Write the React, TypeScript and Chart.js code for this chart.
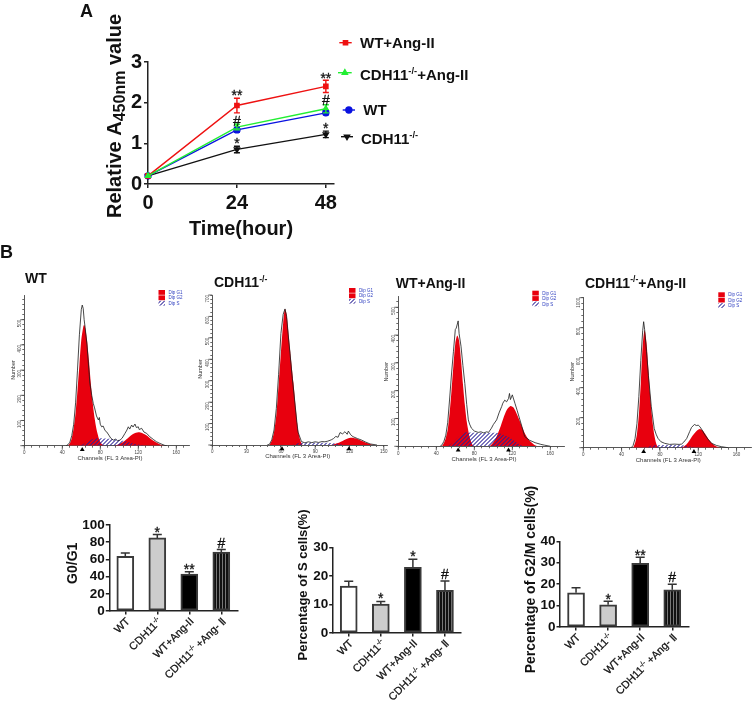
import { useEffect, useRef } from 'react';
import { Chart, registerables } from 'chart.js';
import { drawPoint } from 'chart.js/helpers';

Chart.register(...registerables);

const FONT = '"Liberation Sans", Arial, sans-serif';

/* ---------- Panel A ---------- */
const hours = [0, 24, 48];
const wtAngValues = [0.2, 1.93, 2.4];
const wtAngErrors = [0, 0.18, 0.15];
const cdhAngValues = [0.2, 1.4, 1.85];
const cdhAngErrors = [0, 0.07, 0.1];
const wtValues = [0.2, 1.33, 1.75];
const wtErrors = [0, 0.06, 0.05];
const cdhValues = [0.2, 0.85, 1.22];
const cdhErrors = [0, 0.08, 0.08];
const lineMarks = [
  { x: 24, y: 2.245, t: '**' },
  { x: 48, y: 2.68, t: '**' },
  { x: 24, y: 1.56, t: '#' },
  { x: 48, y: 2.07, t: '#' },
  { x: 24, y: 1.08, t: '*' },
  { x: 48, y: 1.43, t: '*' },
];

/* ---------- Panel B: histograms, [channel, count] ---------- */
const wtOutline = [[44,0],[46,4],[48,14],[50,40],[52,85],[54,170],[56,300],[58,440],[60,540],[61,558],[62,545],[63,500],[64,470],[66,400],[68,300],[69,248],[71,200],[72.6,168],[74,150],[76,118],[78,102],[79,112],[80,85],[81.4,75],[83,78],[85,60],[86.7,55],[89,42],[91,30],[93.7,22],[96,26],[98,20],[100.7,22],[103,30],[106,49],[108,62],[109.5,75],[111,66],[113,82],[114.5,74],[116.5,86],[118,72],[120,75],[121,64],[123.5,69],[126,54],[128.8,49],[132,36],[135.8,25],[139,16],[142.8,9],[148,1],[150,0]];
const wtG1 = [[46,0],[48,10],[50,30],[52,70],[54,130],[56,220],[58,320],[60,420],[62,470],[63,480],[64,470],[66,420],[68,340],[70,250],[72,170],[74,110],[76,65],[78,35],[80,15],[82,5],[84,0]];
const wtG2 = [[95,0],[99,5],[103,13],[107,24],[111,37],[115,47],[120,53],[124,50],[128,42],[132,31],[136,20],[140,11],[144,4],[147,0]];
const wtS = [[58,0],[62,6],[66,14],[70,24],[74,29],[80,30],[85,29],[90,28],[95,26],[100,23],[105,19],[110,14],[115,9],[120,5],[125,2],[130,0]];

const cdhOutline = [[48,0],[50,3],[52,24],[54,70],[56,170],[58,330],[60,520],[62,610],[63.6,635],[65,600],[67,480],[68,428],[70,310],[72,210],[74,105],[75,60],[78,16],[81,10],[84,15],[87,11],[90,15],[93,12],[96,16],[98.5,15],[101,18],[104,24],[106,30],[108,40],[110,36],[111.7,58],[114,52],[116,62],[118,50],[119,65],[121,48],[123,39],[127,30],[130.6,23],[134,14],[138,5],[144,0]];
const cdhG1 = [[50,0],[52,20],[54,60],[56,140],[58,280],[60,430],[62,570],[63.5,635],[65,610],[67,500],[69,390],[71,290],[73,170],[75,70],[77,20],[79,0]];
const cdhG2 = [[104,0],[108,6],[112,14],[116,25],[120,33],[122,34],[125,31],[129,23],[133,14],[137,6],[141,0]];
const cdhS = [[70,0],[74,7],[78,10],[90,11],[100,10],[106,8],[112,3],[116,0]];

const wtAngOutline = [[44,0],[46,5],[48,18],[50,40],[52,85],[54,170],[56,260],[58,340],[60,420],[61,425],[63,451],[64,405],[66,360],[68,290],[70,226],[72,150],[73.7,95],[75,80],[77,65],[80,55],[84,50],[87,52],[90,48],[93,52],[95,50],[98,65],[100,78],[103.5,95],[106,120],[108.8,143],[110,155],[112,166],[114,160],[116,172],[117,190],[118,168],[120,185],[122.8,154],[125,130],[128,95],[130,72],[133,35],[138,22],[144,13],[150,7],[154,4],[160,0]];
const wtAngG1 = [[46,0],[48,12],[50,30],[52,60],[54,120],[56,200],[58,290],[60,370],[62,398],[64,380],[66,310],[68,225],[70,150],[72,90],[74,50],[76,22],[78,6],[80,0]];
const wtAngG2 = [[96,0],[99,10],[102,25],[105,48],[108,75],[111,105],[114,130],[118,145],[121,140],[124,122],[127,98],[130,72],[133,48],[136,30],[139,17],[143,6],[147,0]];
const wtAngS = [[52,0],[58,15],[64,35],[70,50],[75,50],[85,48],[95,48],[105,48],[112,40],[118,30],[124,15],[130,3],[134,0]];

const cdhAngOutline = [[50,0],[52,15],[54,60],[56,160],[58,340],[60,580],[62,780],[63,840],[64,790],[66,640],[68,480],[71,273],[74,129],[76,90],[78,62],[81,40],[85,29],[90,22],[95,24],[100,22],[102.6,24],[105,38],[108,62],[111,107],[113,135],[116,155],[118,148],[120,150],[121.7,140],[124,118],[127,84],[130,58],[134,29],[139,15],[144,7],[151,0]];
const cdhAngG1 = [[52,0],[54,30],[56,90],[58,220],[60,430],[62,680],[64,784],[66,700],[68,520],[70,340],[72,190],[74,90],[76,30],[78,0]];
const cdhAngG2 = [[101,0],[105,8],[108,25],[111,50],[114,80],[118,110],[121.7,124],[125,112],[128,85],[131,55],[134,32],[138,12],[143,0]];
const cdhAngS = [[62,0],[68,8],[74,16],[85,18],[95,18],[104,17],[110,10],[116,3],[120,0]];

/* ---------- Panel B: bars ---------- */
const barCategories = ['WT', 'CDH11-/-', 'WT+Ang-II', 'CDH11-/- +Ang- Ⅱ'];
const g0g1Values = [63.5, 85, 43, 68.5];
const g0g1Errors = [4, 4, 2.5, 3];
const g0g1Marks = [null, { y: 95.3, t: '*' }, { y: 52.3, t: '**' }, { y: 79.4, t: '#' }];
const sCellValues = [16.4, 10.1, 23, 14.9];
const sCellErrors = [1.7, 0.9, 2.8, 3.3];
const sCellMarks = [null, { y: 13, t: '*' }, { y: 27.7, t: '*' }, { y: 20.5, t: '#' }];
const g2mValues = [16, 10.4, 29.7, 17.4];
const g2mErrors = [2.3, 1.6, 2.8, 2.6];
const g2mMarks = [null, { y: 14.1, t: '*' }, { y: 35, t: '**' }, { y: 23.5, t: '#' }];

/* ---------- helpers ---------- */
type Box = { x: number; y: number; w: number; h: number };
type Plot = { left: number; top: number; right: number; bottom: number };
type RichOpts = { size: number; weight?: string; color?: string; rotate?: number; align?: string; stroke?: number };

function drawRich(ctx: any, text: string, x: number, y: number, o: RichOpts) {
  const segs = text.split(/(-\/-|450nm)/).filter((s) => s.length);
  const font = (size: number) => `${o.weight || 'normal'} ${size}px ${FONT}`;
  const info = segs.map((s) => {
    let size = o.size;
    let dy = 0;
    if (s === '-/-') { size = o.size * 0.62; dy = -o.size * 0.38; }
    if (s === '450nm') { size = o.size * 0.8; dy = o.size * 0.2; }
    ctx.font = font(size);
    return { s, size, dy, w: ctx.measureText(s).width };
  });
  const total = info.reduce((a, b) => a + b.w, 0);
  ctx.save();
  ctx.translate(x, y);
  ctx.rotate(o.rotate || 0);
  ctx.fillStyle = o.color || '#111';
  ctx.strokeStyle = o.color || '#111';
  ctx.lineWidth = o.stroke || 0;
  ctx.textAlign = 'left';
  ctx.textBaseline = 'alphabetic';
  let cx = o.align === 'right' ? -total : o.align === 'center' ? -total / 2 : 0;
  for (const seg of info) {
    ctx.font = font(seg.size);
    ctx.fillText(seg.s, cx, seg.dy);
    if (o.stroke) ctx.strokeText(seg.s, cx, seg.dy);
    cx += seg.w;
  }
  ctx.restore();
}

function drawMark(ctx: any, t: string, x: number, y: number, size = 14) {
  ctx.save();
  ctx.font = `${size}px ${FONT}`;
  ctx.fillStyle = '#111';
  ctx.strokeStyle = '#111';
  ctx.lineWidth = 0.3;
  ctx.textAlign = 'center';
  ctx.textBaseline = 'alphabetic';
  const off = t === '#' ? size * 0.36 : size * 0.54;
  ctx.fillText(t, x, y + off);
  ctx.strokeText(t, x, y + off);
  ctx.restore();
}

function frame(box: Box, plot: Plot) {
  const zero = (s: any) => {
    s.paddingLeft = 0;
    s.paddingRight = 0;
    s.paddingTop = 0;
    s.paddingBottom = 0;
  };
  return {
    layout: {
      autoPadding: false,
      padding: { left: 0, bottom: 0, top: plot.top - box.y, right: box.x + box.w - plot.right },
    },
    xFit: (s: any) => { s.height = box.y + box.h - plot.bottom; zero(s); },
    yFit: (s: any) => { s.width = plot.left - box.x; zero(s); },
  };
}

function overlay(box: Box, draw: (chart: any, ctx: any) => void) {
  return {
    id: 'overlay',
    afterDraw(chart: any) {
      const ctx = chart.ctx;
      ctx.save();
      ctx.translate(-box.x, -box.y);
      draw(chart, ctx);
      ctx.restore();
    },
  };
}

function errorBars(chart: any, ctx: any, box: Box, bothSides: boolean, cap: number, width: number) {
  const sets = chart.data.datasets.map((ds: any, i: number) => ({ ds, i })).reverse();
  sets.forEach(({ ds, i }: any) => {
    if (!ds.errors) return;
    const meta = chart.getDatasetMeta(i);
    const y = chart.scales.y;
    ctx.strokeStyle = ds.errorColor || ds.borderColor;
    ctx.lineWidth = width;
    meta.data.forEach((el: any, k: number) => {
      if (!ds.errors[k]) return;
      const v = ds.values[k];
      const top = y.getPixelForValue(v + ds.errors[k]) + box.y;
      const bot = y.getPixelForValue(bothSides ? v - ds.errors[k] : v) + box.y;
      const px = el.x + box.x;
      ctx.beginPath();
      ctx.moveTo(px, top);
      ctx.lineTo(px, bot);
      ctx.moveTo(px - cap, top);
      ctx.lineTo(px + cap, top);
      if (bothSides) {
        ctx.moveTo(px - cap, bot);
        ctx.lineTo(px + cap, bot);
      }
      ctx.stroke();
    });
  });
}

function hatch() {
  const c = document.createElement('canvas');
  c.width = 4;
  c.height = 4;
  const g = c.getContext('2d') as any;
  g.fillStyle = 'rgba(40,30,150,0.62)';
  for (let px = 0; px < 4; px++) {
    for (let py = 0; py < 4; py++) {
      if ((px + py) % 4 < 2) g.fillRect(px, py, 1, 1);
    }
  }
  return g.createPattern(c, 'repeat');
}

function stripes() {
  const c = document.createElement('canvas');
  c.width = 3;
  c.height = 1;
  const g = c.getContext('2d') as any;
  g.fillStyle = '#111';
  g.fillRect(0, 0, 2, 1);
  g.fillStyle = '#777';
  g.fillRect(2, 0, 1, 1);
  return g.createPattern(c, 'repeat');
}

const baseOptions = {
  responsive: false,
  animation: false,
  maintainAspectRatio: false,
};
const quiet = { legend: { display: false }, tooltip: { enabled: false } };

/* ---------- Panel A chart ---------- */
const lineSeries = [
  { name: 'CDH11-/-+Ang-II', values: cdhAngValues, errors: cdhAngErrors, color: '#22ee33', style: 'triangle', rotation: 0, lx: [338, 351.7], ly: 72.7, tx: 360, ty: 80 },
  { name: 'WT+Ang-II', values: wtAngValues, errors: wtAngErrors, color: '#ee1111', style: 'rect', rotation: 0, lx: [339.3, 351.7], ly: 42.7, tx: 360, ty: 48.3 },
  { name: 'WT', values: wtValues, errors: wtErrors, color: '#0a12e0', style: 'circle', rotation: 0, lx: [342.7, 355], ly: 110, tx: 363.3, ty: 115 },
  { name: 'CDH11-/-', values: cdhValues, errors: cdhErrors, color: '#111111', style: 'triangle', rotation: 180, lx: [341, 353], ly: 136.7, tx: 361, ty: 144 },
];

function lineConfig(box: Box) {
  const plot = { left: 148, top: 62, right: 334, bottom: 184 };
  const f = frame(box, plot);
  const axisFont = { family: FONT, size: 20, weight: 'bold' };
  const axis = {
    border: { color: '#222', width: 1.5 },
    grid: { drawOnChartArea: false, drawTicks: true, tickLength: 4, color: '#222', lineWidth: 1.5 },
  };
  return {
    type: 'line',
    data: {
      datasets: lineSeries.map((s) => ({
        label: s.name,
        data: s.values.map((v, i) => ({ x: hours[i], y: v })),
        values: s.values,
        errors: s.errors,
        borderColor: s.color,
        backgroundColor: s.color,
        borderWidth: 1.4,
        pointStyle: s.style,
        pointRotation: s.rotation,
        pointRadius: 3,
        clip: false,
      })),
    },
    options: {
      ...baseOptions,
      layout: f.layout,
      plugins: quiet,
      scales: {
        x: {
          ...axis,
          type: 'linear',
          min: 0,
          max: 50.2,
          afterFit: f.xFit,
          afterBuildTicks: (s: any) => { s.ticks = hours.map((value) => ({ value })); },
          ticks: { color: '#111', font: axisFont, padding: 3, autoSkip: false, maxRotation: 0 },
        },
        y: {
          ...axis,
          min: 0,
          max: 3,
          afterFit: f.yFit,
          ticks: { stepSize: 1, color: '#111', font: axisFont, padding: 2 },
        },
      },
    },
    plugins: [
      overlay(box, (chart, ctx) => {
        errorBars(chart, ctx, box, true, 3, 1.4);
        lineMarks.forEach((m) => {
          drawMark(ctx, m.t, chart.scales.x.getPixelForValue(m.x) + box.x, chart.scales.y.getPixelForValue(m.y) + box.y);
        });
        lineSeries.forEach((s) => {
          ctx.strokeStyle = s.color;
          ctx.fillStyle = s.color;
          ctx.lineWidth = 1.4;
          ctx.beginPath();
          ctx.moveTo(s.lx[0], s.ly);
          ctx.lineTo(s.lx[1], s.ly);
          ctx.stroke();
          drawPoint(ctx, { pointStyle: s.style, rotation: s.rotation, radius: 3, borderWidth: 1 }, (s.lx[0] + s.lx[1]) / 2, s.ly);
          drawRich(ctx, s.name, s.tx, s.ty, { size: 15, weight: 'bold' });
        });
        drawRich(ctx, 'A', 80, 17, { size: 18, weight: 'bold' });
        drawRich(ctx, 'B', 0, 258, { size: 18, weight: 'bold' });
        drawRich(ctx, 'Relative A450nm value', 121, 218, { size: 20, weight: 'bold', rotate: -Math.PI / 2 });
        drawRich(ctx, 'Time(hour)', 241, 235, { size: 20, weight: 'bold', align: 'center' });
      }),
    ],
  };
}

/* ---------- Histogram chart ---------- */
type HistSpec = {
  box: Box; plot: Plot; xMax: number; yMax: number; xStep: number; yStep: number; xEvery: number; yEvery: number;
  outline: number[][]; g1: number[][]; g2: number[][]; s: number[][];
  title: string; titleX: number; titleY: number; legendX: number; legendY: number;
  peaks: number[]; numberX: number; numberY: number; channelX: number; channelY: number;
};

const pts = (a: number[][]) => a.map(([x, y]) => ({ x, y }));

function histConfig(h: HistSpec) {
  const f = frame(h.box, h.plot);
  const pattern = hatch();
  const RED = '#e8000e';
  const tickFont = { family: FONT, size: 4.5 };
  const axis = {
    border: { color: '#444', width: 0.9 },
    grid: { drawOnChartArea: false, drawTicks: true, tickLength: 2, color: '#444', lineWidth: 0.8 },
  };
  const area = (label: string, data: number[][], bg: any) => ({
    label,
    data: pts(data),
    backgroundColor: bg,
    borderColor: bg,
    borderWidth: 0,
    fill: 'origin',
    pointRadius: 0,
    tension: 0.25,
  });
  return {
    type: 'line',
    data: {
      datasets: [
        { label: 'Number', data: pts(h.outline), borderColor: '#1a1a1a', borderWidth: 0.8, pointRadius: 0, fill: false, backgroundColor: 'transparent' },
        area('Dip S', h.s, pattern),
        area('Dip G2', h.g2, RED),
        area('Dip G1', h.g1, RED),
      ],
    },
    options: {
      ...baseOptions,
      layout: f.layout,
      plugins: quiet,
      scales: {
        x: {
          ...axis,
          type: 'linear',
          min: 0,
          max: h.xMax,
          afterFit: f.xFit,
          ticks: {
            stepSize: h.xStep,
            includeBounds: false,
            autoSkip: false,
            maxRotation: 0,
            color: '#444',
            font: tickFont,
            padding: 2.5,
            callback: (v: number) => (v % h.xEvery === 0 ? String(v) : ''),
          },
        },
        y: {
          ...axis,
          min: 0,
          max: h.yMax,
          afterFit: f.yFit,
          ticks: {
            stepSize: h.yStep,
            includeBounds: false,
            autoSkip: false,
            minRotation: 90,
            maxRotation: 90,
            color: '#444',
            font: tickFont,
            padding: 3,
            callback: (v: number) => (v !== 0 && v % h.yEvery === 0 ? String(v) : ''),
          },
        },
      },
    },
    plugins: [
      overlay(h.box, (chart, ctx) => {
        const xs = chart.scales.x;
        const ys = chart.scales.y;
        // longer major tick marks on the labelled values
        ctx.strokeStyle = '#444';
        ctx.lineWidth = 0.8;
        ctx.beginPath();
        xs.ticks.forEach((t: any) => {
          if (t.value % h.xEvery === 0) {
            const px = xs.getPixelForValue(t.value) + h.box.x;
            ctx.moveTo(px, h.plot.bottom);
            ctx.lineTo(px, h.plot.bottom + 4);
          }
        });
        ys.ticks.forEach((t: any) => {
          if (t.value % h.yEvery === 0) {
            const py = ys.getPixelForValue(t.value) + h.box.y;
            ctx.moveTo(h.plot.left, py);
            ctx.lineTo(h.plot.left - 4, py);
          }
        });
        ctx.stroke();
        ctx.fillStyle = '#000';
        h.peaks.forEach((p) => {
          const px = xs.getPixelForValue(p) + h.box.x;
          ctx.beginPath();
          ctx.moveTo(px, h.plot.bottom + 1.2);
          ctx.lineTo(px - 2.4, h.plot.bottom + 5.2);
          ctx.lineTo(px + 2.4, h.plot.bottom + 5.2);
          ctx.closePath();
          ctx.fill();
        });
        const rows = [
          { t: 'Dip G1', bg: RED },
          { t: 'Dip G2', bg: RED },
          { t: 'Dip S', bg: pattern },
        ];
        rows.forEach((r, i) => {
          const y = h.legendY + i * 5.4;
          ctx.fillStyle = r.bg;
          ctx.fillRect(h.legendX, y, 6.5, 4.8);
          drawRich(ctx, r.t, h.legendX + 10, y + 4, { size: 4.5, color: '#3040c0' });
        });
        drawRich(ctx, h.title, h.titleX, h.titleY, { size: 14, weight: 'bold' });
        drawRich(ctx, 'Number', h.numberX, h.numberY, { size: 5.5, color: '#333', rotate: -Math.PI / 2, align: 'center' });
        drawRich(ctx, 'Channels (FL 3 Area-PI)', h.channelX, h.channelY, { size: 6, color: '#333', align: 'center' });
      }),
    ],
  };
}

const histSpecs: HistSpec[] = [
  {
    box: { x: 0, y: 262, w: 190, h: 208 }, plot: { left: 24.3, top: 295, right: 189.3, bottom: 445.7 },
    xMax: 173.7, yMax: 598, xStep: 8, yStep: 20, xEvery: 40, yEvery: 100,
    outline: wtOutline, g1: wtG1, g2: wtG2, s: wtS,
    title: 'WT', titleX: 25, titleY: 283, legendX: 158.5, legendY: 290, peaks: [61],
    numberX: 14.5, numberY: 370, channelX: 110, channelY: 460,
  },
  {
    box: { x: 190, y: 262, w: 202, h: 208 }, plot: { left: 212.3, top: 295, right: 387, bottom: 445 },
    xMax: 152.8, yMax: 700, xStep: 6, yStep: 20, xEvery: 30, yEvery: 100,
    outline: cdhOutline, g1: cdhG1, g2: cdhG2, s: cdhS,
    title: 'CDH11-/-', titleX: 214, titleY: 287, legendX: 349, legendY: 288, peaks: [61, 119.5],
    numberX: 201.5, numberY: 369, channelX: 297.7, channelY: 458.3,
  },
  {
    box: { x: 375, y: 262, w: 190, h: 208 }, plot: { left: 398.3, top: 296.7, right: 564.3, bottom: 446.3 },
    xMax: 174.7, yMax: 538, xStep: 8, yStep: 20, xEvery: 40, yEvery: 100,
    outline: wtAngOutline, g1: wtAngG1, g2: wtAngG2, s: wtAngS,
    title: 'WT+Ang-II', titleX: 395.7, titleY: 287.7, legendX: 532.3, legendY: 290.7, peaks: [63, 116],
    numberX: 388, numberY: 371.7, channelX: 484, channelY: 460.7,
  },
  {
    box: { x: 565, y: 262, w: 188, h: 208 }, plot: { left: 583.3, top: 297.7, right: 751.7, bottom: 447.7 },
    xMax: 175.8, yMax: 1000, xStep: 8, yStep: 40, xEvery: 40, yEvery: 200,
    outline: cdhAngOutline, g1: cdhAngG1, g2: cdhAngG2, s: cdhAngS,
    title: 'CDH11-/-+Ang-II', titleX: 585, titleY: 287.7, legendX: 718.3, legendY: 292.3, peaks: [63, 115.5],
    numberX: 573.7, numberY: 371.7, channelX: 668.3, channelY: 461.7,
  },
];

/* ---------- Bar charts ---------- */
type BarSpec = {
  box: Box; plot: Plot; yMax: number; yStep: number; values: number[]; errors: number[]; marks: any[];
  yTitle: string; titleX: number; titleY: number; titleSize: number;
};

function barConfig(b: BarSpec) {
  const f = frame(b.box, b.plot);
  const axis = {
    border: { color: '#222', width: 1.5 },
    grid: { drawOnChartArea: false, drawTicks: true, tickLength: 3.5, color: '#222', lineWidth: 1.5, offset: false },
  };
  return {
    type: 'bar',
    data: {
      labels: barCategories,
      datasets: [
        {
          label: b.yTitle,
          data: b.values,
          values: b.values,
          errors: b.errors,
          errorColor: '#333',
          backgroundColor: ['#ffffff', '#cccccc', '#000000', stripes()],
          borderColor: '#3a3a3a',
          borderWidth: 2,
          borderSkipped: false,
          barThickness: 17,
        },
      ],
    },
    options: {
      ...baseOptions,
      layout: f.layout,
      plugins: quiet,
      scales: {
        x: { ...axis, afterFit: f.xFit, ticks: { display: false } },
        y: {
          ...axis,
          grid: { ...axis.grid, offset: false },
          min: 0,
          max: b.yMax,
          afterFit: f.yFit,
          ticks: { stepSize: b.yStep, autoSkip: false, color: '#111', font: { family: FONT, size: 13.5, weight: 'bold' }, padding: 1 },
        },
      },
    },
    plugins: [
      overlay(b.box, (chart, ctx) => {
        errorBars(chart, ctx, b.box, false, 4.5, 1.5);
        const xs = chart.scales.x;
        const ys = chart.scales.y;
        barCategories.forEach((label, i) => {
          const px = xs.getPixelForTick(i) + b.box.x;
          drawRich(ctx, label, px + 5, b.plot.bottom + 11, { size: 10.8, rotate: -Math.PI / 4, align: 'right', stroke: 0.25 });
          const m = b.marks[i];
          if (m) drawMark(ctx, m.t, px, ys.getPixelForValue(m.y) + b.box.y);
        });
        drawRich(ctx, b.yTitle, b.titleX, b.titleY, { size: b.titleSize, weight: 'bold', rotate: -Math.PI / 2, align: 'center' });
      }),
    ],
  };
}

const barSpecs: BarSpec[] = [
  {
    box: { x: 40, y: 470, w: 250, h: 232 }, plot: { left: 109.3, top: 525, right: 237.3, bottom: 611 },
    yMax: 100, yStep: 20, values: g0g1Values, errors: g0g1Errors, marks: g0g1Marks,
    yTitle: 'G0/G1', titleX: 76.7, titleY: 563.3, titleSize: 14,
  },
  {
    box: { x: 290, y: 470, w: 225, h: 232 }, plot: { left: 332.7, top: 547.3, right: 461, bottom: 633 },
    yMax: 30, yStep: 10, values: sCellValues, errors: sCellErrors, marks: sCellMarks,
    yTitle: 'Percentage of S cells(%)', titleX: 306.7, titleY: 585, titleSize: 13,
  },
  {
    box: { x: 515, y: 470, w: 238, h: 232 }, plot: { left: 560, top: 541.3, right: 688.3, bottom: 627 },
    yMax: 40, yStep: 10, values: g2mValues, errors: g2mErrors, marks: g2mMarks,
    yTitle: 'Percentage of G2/M cells(%)', titleX: 535, titleY: 579.5, titleSize: 14,
  },
];

/* ---------- React ---------- */
function Panel({ box, build }: { box: Box; build: () => any }) {
  const ref = useRef<HTMLCanvasElement>(null);
  useEffect(() => {
    const chart = new Chart(ref.current as any, build());
    return () => chart.destroy();
  }, []);
  return (
    <canvas
      ref={ref}
      width={box.w}
      height={box.h}
      style={{ position: 'absolute', left: box.x, top: box.y, width: box.w, height: box.h, filter: 'blur(0.3px)' }}
    />
  );
}

const lineBox: Box = { x: 0, y: 0, w: 753, h: 262 };

export default function App() {
  return (
    <div style={{ position: 'absolute', left: 0, top: 0, width: 753, height: 702, background: '#fff', overflow: 'hidden' }}>
      <Panel box={lineBox} build={() => lineConfig(lineBox)} />
      {histSpecs.map((h, i) => (
        <Panel key={'h' + i} box={h.box} build={() => histConfig(h)} />
      ))}
      {barSpecs.map((b, i) => (
        <Panel key={'b' + i} box={b.box} build={() => barConfig(b)} />
      ))}
    </div>
  );
}
